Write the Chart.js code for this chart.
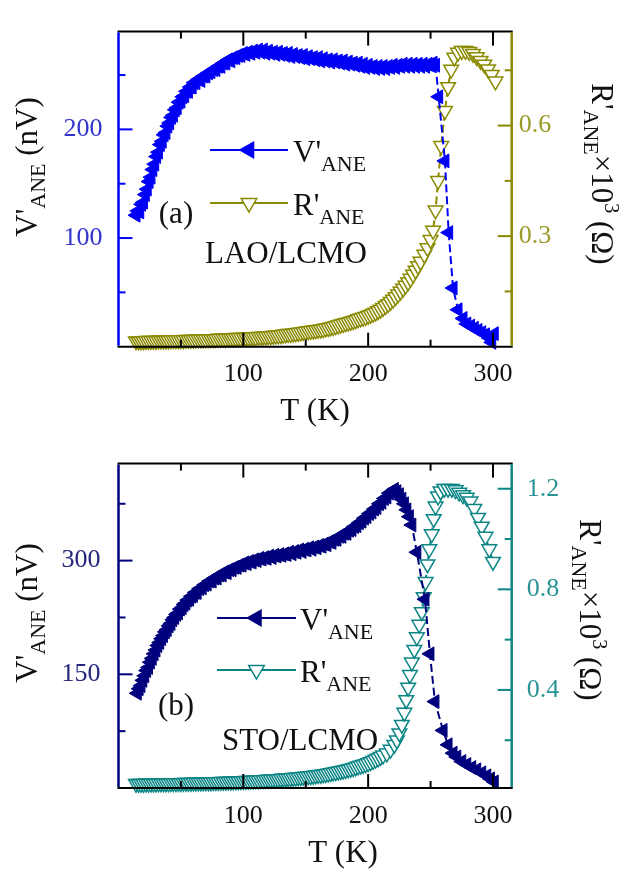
<!DOCTYPE html>
<html>
<head>
<meta charset="utf-8">
<title>V'ANE and R'ANE vs T</title>
<script src="https://cdn.jsdelivr.net/npm/chart.js@4"></script>
<style>
  html, body { margin: 0; padding: 0; background: #fff; }
  #wrap { position: relative; width: 627px; height: 870px; }
  canvas { position: absolute; left: 0; }
  #chartA { top: 0; }
  #chartB { top: 430px; }
  #fontprobe { position: absolute; left: -999px; top: 0; font-family: "Liberation Serif"; font-size: 26px; }
</style>
</head>
<body>
<div id="wrap">
  <canvas id="chartA" width="627" height="430"></canvas>
  <canvas id="chartB" width="627" height="440"></canvas>
</div>
<span id="fontprobe">T (K) 0.6 V'ANE</span>
<script>
// ---- data, panel (a) LAO/LCMO ----
const tA_V = [
  14, 15.5, 17, 18.5, 20, 21.5, 23, 24.5, 26, 27.5,
  29, 30.5, 32, 33.5, 35, 36.5, 38, 39.5, 41, 42.5,
  44, 45.5, 47, 48.5, 50, 51.5, 53, 54.5, 56, 57.5,
  59, 60.5, 62, 64, 66, 68, 70, 72, 74, 76,
  78, 80, 82, 84, 86, 88, 90, 92, 94, 96,
  98, 100, 102, 104, 106, 108, 110, 112, 114, 116,
  118, 120, 122, 124, 126, 128, 130, 132, 134, 136,
  138, 140, 142, 144, 146, 148, 150, 152, 154, 156,
  158, 160, 162, 164, 166, 168, 170, 172, 174, 176,
  178, 180, 182, 184, 186, 188, 190, 192, 194, 196,
  198, 200, 202, 204, 206, 208, 210, 212, 214, 216,
  218, 220, 222, 224, 226, 228, 230, 232, 234, 236,
  238, 240, 242, 244, 246, 248, 250, 252, 254, 256.5,
  261.5, 264.5, 268, 272, 276, 279, 282, 285, 288, 291,
  294, 297, 299, 301];
const vA = [
  121, 125, 124, 131, 133, 140, 145, 152, 156, 163,
  168, 175, 179, 186, 189, 195, 197, 203, 206, 211,
  213, 218, 220, 225, 226, 230, 231, 235, 235, 239,
  239, 243, 243, 246, 245, 249, 249, 252, 253, 255,
  255, 258, 258, 261, 261, 264, 263, 266, 266, 268,
  268, 270, 269, 271, 270, 272, 271, 273, 271, 273,
  270, 272, 270, 271, 269, 271, 269, 270, 268, 270,
  267, 269, 267, 268, 266, 268, 265, 267, 265, 266,
  264, 266, 263, 265, 263, 264, 262, 264, 262, 263,
  261, 263, 260, 262, 260, 261, 259, 261, 258, 260,
  257, 259, 257, 258, 256, 258, 256, 258, 256, 258,
  257, 259, 257, 259, 258, 260, 258, 260, 258, 260,
  258, 260, 258, 260, 258, 260, 259, 261, 259, 230,
  171, 105, 54, 34, 26, 21, 19, 17, 15, 13,
  11, 8, 4, 12];

const tA_R = [
  14, 16, 18, 20, 22, 24, 26, 28, 30, 32,
  34, 36, 38, 40, 42, 44, 46, 48, 50, 52,
  54, 56, 58, 60, 62, 64, 66, 68, 70, 72,
  74, 76, 78, 80, 82, 84, 86, 88, 90, 92,
  94, 96, 98, 100, 102, 104, 106, 108, 110, 112,
  114, 116, 118, 120, 122, 124, 126, 128, 130, 132,
  134, 136, 138, 140, 142, 144, 146, 148, 150, 152,
  154, 156, 158, 160, 162, 164, 166, 168, 170, 172,
  174, 176, 178, 180, 182, 184, 186, 188, 190, 192,
  194, 196, 198, 200, 202, 204, 206, 208, 210, 212,
  214, 216, 218, 220, 222, 224, 226, 228, 230, 232,
  234, 236, 238, 240, 242, 245, 247.5, 250, 252, 254,
  256, 258.5, 261.5, 264, 266.5, 269, 272, 275, 278, 281,
  284, 287, 290, 293, 296, 299, 302];
const rA = [
  0.015, 0.015, 0.015, 0.015, 0.016, 0.016, 0.016, 0.016, 0.016, 0.017,
  0.017, 0.017, 0.017, 0.017, 0.018, 0.018, 0.018, 0.018, 0.018, 0.018,
  0.019, 0.019, 0.019, 0.019, 0.020, 0.020, 0.020, 0.020, 0.020, 0.021,
  0.021, 0.021, 0.021, 0.022, 0.022, 0.022, 0.022, 0.023, 0.023, 0.023,
  0.024, 0.024, 0.024, 0.025, 0.025, 0.025, 0.026, 0.026, 0.026, 0.027,
  0.027, 0.028, 0.028, 0.029, 0.029, 0.030, 0.031, 0.031, 0.032, 0.033,
  0.034, 0.035, 0.035, 0.036, 0.037, 0.038, 0.039, 0.040, 0.041, 0.042,
  0.043, 0.044, 0.045, 0.046, 0.047, 0.048, 0.050, 0.051, 0.053, 0.054,
  0.056, 0.058, 0.060, 0.062, 0.064, 0.066, 0.068, 0.070, 0.072, 0.075,
  0.077, 0.079, 0.081, 0.084, 0.087, 0.090, 0.093, 0.097, 0.101, 0.106,
  0.111, 0.116, 0.122, 0.128, 0.135, 0.142, 0.150, 0.158, 0.166, 0.175,
  0.185, 0.196, 0.207, 0.219, 0.231, 0.250, 0.268, 0.29, 0.315, 0.37,
  0.45, 0.545, 0.64, 0.705, 0.752, 0.785, 0.798, 0.803, 0.803, 0.80,
  0.795, 0.786, 0.776, 0.766, 0.753, 0.738, 0.72];

// ---- data, panel (b) STO/LCMO ----
const tB_V = [
  15, 16.5, 18, 19.5, 21, 22.5, 24, 25.5, 27, 28.5,
  30, 31.5, 33, 34.5, 36, 37.5, 39, 40.5, 42, 43.5,
  45, 46.5, 48, 49.5, 51, 52.5, 54, 55.5, 57, 58.5,
  60, 61.5, 63, 65, 67, 69, 71, 73, 75, 77,
  79, 81, 83, 85, 87, 89, 91, 93, 95, 97,
  99, 101, 103, 105, 107, 109, 111, 113, 115, 117,
  119, 121, 123, 125, 127, 129, 131, 133, 135, 137,
  139, 141, 143, 145, 147, 149, 151, 153, 155, 157,
  159, 161, 163, 165, 167, 169, 171, 173, 175, 177,
  179, 181, 183, 185, 187, 189, 191, 193, 195, 197,
  199, 201, 203, 205, 207, 209, 211, 213, 215, 217,
  219, 221, 223, 225, 227, 229, 231, 233, 235, 239,
  245.5, 249.5, 253.5, 260, 264, 268, 271, 275, 279, 283,
  287, 291, 295, 298, 301];
const vB = [
  125, 131, 135, 142, 148, 155, 159, 166, 171, 177,
  182, 188, 192, 197, 201, 206, 209, 214, 217, 222,
  225, 229, 231, 236, 238, 242, 244, 248, 249, 253,
  254, 258, 258, 263, 264, 268, 269, 273, 273, 277,
  277, 281, 281, 285, 284, 288, 288, 291, 291, 294,
  294, 297, 296, 299, 298, 301, 300, 303, 302, 304,
  303, 306, 304, 307, 306, 308, 307, 309, 308, 311,
  309, 312, 311, 314, 312, 315, 314, 317, 315, 318,
  317, 320, 319, 322, 321, 325, 324, 328, 328, 332,
  332, 336, 336, 340, 341, 345, 346, 350, 352, 356,
  358, 362, 364, 368, 370, 375, 377, 382, 384, 389,
  391, 394, 391, 387, 381, 375, 367, 358, 347, 311,
  249, 177, 114, 76, 57, 46, 41, 35, 31, 27,
  24, 20, 16, 12, 8];

const tB_R = [
  14, 16, 18, 20, 22, 24, 26, 28, 30, 32,
  34, 36, 38, 40, 42, 44, 46, 48, 50, 52,
  54, 56, 58, 60, 62, 64, 66, 68, 70, 72,
  74, 76, 78, 80, 82, 84, 86, 88, 90, 92,
  94, 96, 98, 100, 102, 104, 106, 108, 110, 112,
  114, 116, 118, 120, 122, 124, 126, 128, 130, 132,
  134, 136, 138, 140, 142, 144, 146, 148, 150, 152,
  154, 156, 158, 160, 162, 164, 166, 168, 170, 172,
  174, 176, 178, 180, 182, 184, 186, 188, 190, 192,
  194, 196, 198, 200, 202, 204, 206, 208, 210, 212,
  215, 218, 221, 223, 225, 227, 229, 230.5, 232, 233.5,
  235, 237, 239, 241, 243, 244.5, 246, 247.5, 249, 251,
  252.5, 254, 256, 258, 261, 264, 267, 270, 273, 276,
  279, 282, 285, 288, 291, 294, 297, 300];
const rB = [
  0.027, 0.027, 0.027, 0.027, 0.028, 0.028, 0.028, 0.028, 0.028, 0.029,
  0.029, 0.029, 0.029, 0.029, 0.030, 0.030, 0.030, 0.030, 0.030, 0.031,
  0.031, 0.031, 0.031, 0.032, 0.032, 0.032, 0.032, 0.033, 0.033, 0.033,
  0.033, 0.034, 0.034, 0.034, 0.035, 0.035, 0.035, 0.036, 0.036, 0.036,
  0.037, 0.037, 0.038, 0.038, 0.039, 0.039, 0.040, 0.040, 0.041, 0.041,
  0.042, 0.042, 0.043, 0.044, 0.044, 0.045, 0.046, 0.046, 0.047, 0.048,
  0.049, 0.049, 0.050, 0.051, 0.052, 0.053, 0.054, 0.055, 0.056, 0.057,
  0.058, 0.059, 0.061, 0.062, 0.063, 0.065, 0.066, 0.068, 0.070, 0.072,
  0.074, 0.076, 0.078, 0.080, 0.082, 0.085, 0.087, 0.090, 0.093, 0.096,
  0.099, 0.102, 0.105, 0.109, 0.113, 0.118, 0.123, 0.128, 0.134, 0.140,
  0.148, 0.163, 0.182, 0.20, 0.228, 0.262, 0.31, 0.36, 0.41, 0.46,
  0.51, 0.56, 0.61, 0.66, 0.71, 0.77, 0.83, 0.90, 0.96, 1.02,
  1.08, 1.13, 1.17, 1.19, 1.20, 1.20, 1.20, 1.195, 1.185, 1.175,
  1.165, 1.15, 1.12, 1.085, 1.05, 1.01, 0.96, 0.91];

// ---- axes ----
const xTicks = [50, 100, 150, 200, 250, 300];
const xLabels = [100, 200, 300];
const leftTicksA = [50, 100, 150, 200, 250];
const leftLabelsA = [100, 200];
const rightTicksA = [0.15, 0.3, 0.45, 0.6, 0.75];
const rightLabelsA = [0.3, 0.6];
const leftTicksB = [75, 150, 225, 300, 375];
const leftLabelsB = [150, 300];
const rightTicksB = [0.2, 0.4, 0.6, 0.8, 1.0, 1.2];
const rightLabelsB = [0.4, 0.8, 1.2];

const FONT = '"Liberation Serif", "Times New Roman", serif';

function font(size) {
    return size + 'px ' + FONT;
}

function toPoints(xs, ys) {
    if (xs.length !== ys.length) console.warn('length mismatch', xs.length, ys.length);
    return xs.map((x, i) => ({ x: x, y: ys[i] }));
}

// text with sub/superscripts, drawn piece by piece along one baseline
function drawRich(ctx, parts, x, y, angle, align) {
    ctx.save();
    ctx.translate(x, y);
    ctx.rotate(angle);
    ctx.textBaseline = 'alphabetic';
    ctx.textAlign = 'left';
    let total = 0;
    const widths = parts.map(p => {
        ctx.font = font(p.size);
        const w = ctx.measureText(p.text).width;
        total += w;
        return w;
    });
    let cx = align === 'left' ? 0 : -total / 2;
    parts.forEach((p, i) => {
        ctx.font = font(p.size);
        ctx.fillStyle = p.color || '#111';
        ctx.fillText(p.text, cx, p.dy || 0);
        cx += widths[i];
    });
    ctx.restore();
}

function seg(ctx, x1, y1, x2, y2, color, w) {
    ctx.strokeStyle = color;
    ctx.lineWidth = w;
    ctx.beginPath();
    ctx.moveTo(x1, y1);
    ctx.lineTo(x2, y2);
    ctx.stroke();
}

function decoPlugin(cfg) {
    return {
        id: 'deco',
        afterDatasetsDraw(chart) {
            const ctx = chart.ctx;
            const a = chart.chartArea;
            const sx = chart.scales.x;
            const sy = chart.scales.y;
            const sr = chart.scales.y1;
            ctx.save();
            ctx.setLineDash([]);

            // inward tick marks
            xTicks.forEach(v => {
                const px = sx.getPixelForValue(v);
                const len = xLabels.includes(v) ? 14 : 7;
                seg(ctx, px, a.bottom, px, a.bottom - len, '#000', 2);
                seg(ctx, px, a.top, px, a.top + len, '#000', 2);
            });
            cfg.leftTicks.forEach(v => {
                const py = sy.getPixelForValue(v);
                const len = cfg.leftLabels.includes(v) ? 14 : 7;
                seg(ctx, a.left, py, a.left + len, py, cfg.vColor, 2);
            });
            cfg.rightTicks.forEach(v => {
                const py = sr.getPixelForValue(v);
                const len = cfg.rightLabels.includes(v) ? 14 : 7;
                seg(ctx, a.right, py, a.right - len, py, cfg.rColor, 2);
            });

            // frame
            seg(ctx, a.left - 1, a.top, a.right + 1, a.top, '#000', 2);
            seg(ctx, a.left - 1, a.bottom, a.right + 1, a.bottom, '#000', 2);
            seg(ctx, a.left, a.top + 1, a.left, a.bottom - 1, cfg.vColor, 2.5);
            seg(ctx, a.right, a.top + 1, a.right, a.bottom - 1, cfg.rColor, 2.5);

            // axis titles
            const oy = cfg.offsetY;
            drawRich(ctx, [
                { text: "V'", size: 31 },
                { text: 'ANE', size: 22, dy: 8 },
                { text: ' (nV)', size: 31 }
            ], 37, cfg.leftTitleY - oy, -Math.PI / 2);
            drawRich(ctx, [
                { text: "R'", size: 31 },
                { text: 'ANE', size: 22, dy: 8 },
                { text: '×10', size: 31 },
                { text: '3', size: 20, dy: -13 },
                { text: ' (Ω)', size: 31 }
            ], cfg.rightTitleX, cfg.rightTitleY - oy, Math.PI / 2);
            drawRich(ctx, [{ text: 'T (K)', size: 31 }], cfg.xTitleX, cfg.xTitleY - oy, 0);

            // legend
            const rows = [
                { y: cfg.legendY[0], color: cfg.vColor, fill: cfg.vColor, rot: -90, r: 9, name: "V'" },
                { y: cfg.legendY[1], color: cfg.rColor, fill: '#fff', rot: 180, r: 9, name: "R'" }
            ];
            rows.forEach(row => {
                const y = row.y - oy;
                seg(ctx, cfg.legendX[0], y, cfg.legendX[1], y, row.color, 2);
                ctx.fillStyle = row.fill;
                ctx.strokeStyle = row.color;
                ctx.lineWidth = 1.5;
                Chart.helpers.drawPoint(ctx, {
                    pointStyle: 'triangle', rotation: row.rot, radius: row.r, borderWidth: 1.5
                }, (cfg.legendX[0] + cfg.legendX[1]) / 2, y);
                drawRich(ctx, [
                    { text: row.name, size: 31 },
                    { text: 'ANE', size: 22, dy: 9 }
                ], cfg.legendTextX, y + 12, 0, 'left');
            });

            // panel tag and sample name
            drawRich(ctx, [{ text: cfg.tag, size: 31 }], 176, cfg.tagY - oy, 0);
            drawRich(ctx, [{ text: cfg.sample, size: 31 }], cfg.sampleX, cfg.sampleY - oy, 0, 'left');

            ctx.restore();
        }
    };
}

function makeChart(id, cfg) {
    console.log('makeChart', id);
    const ctx = document.getElementById(id);
    const canvasH = ctx.height;

    return new Chart(ctx, {
        type: 'line',
        data: {
            datasets: [{
                label: "V'ANE",
                data: toPoints(cfg.tV, cfg.v),
                yAxisID: 'y',
                borderColor: cfg.vColor,
                backgroundColor: cfg.vColor,
                borderWidth: 2,
                borderDash: [8, 4],
                pointStyle: 'triangle',
                pointRotation: -90,
                pointRadius: 8,
                pointBorderWidth: 1,
                pointBackgroundColor: cfg.vColor,
                pointBorderColor: cfg.vColor,
                tension: 0,
                clip: false
            }, {
                label: "R'ANE",
                data: toPoints(cfg.tR, cfg.r),
                yAxisID: 'y1',
                borderColor: cfg.rColor,
                backgroundColor: '#fff',
                borderWidth: 2,
                borderDash: [8, 4],
                pointStyle: 'triangle',
                pointRotation: 180,
                pointRadius: 8.5,
                pointBorderWidth: 1.5,
                pointBackgroundColor: '#fff',
                pointBorderColor: cfg.rColor,
                tension: 0,
                clip: false
            }]
        },
        options: {
            responsive: false,
            animation: false,
            events: [],
            layout: { padding: { top: cfg.top, left: 0, right: 0, bottom: 0 } },
            plugins: {
                legend: { display: false },
                tooltip: { enabled: false }
            },
            scales: {
                x: {
                    type: 'linear',
                    min: 0,
                    max: 315,
                    grid: { display: false, drawTicks: false },
                    border: { display: false },
                    ticks: { font: { family: FONT, size: 26 }, color: '#111', padding: cfg.xPad, maxRotation: 0 },
                    afterBuildTicks: s => { s.ticks = xLabels.map(v => ({ value: v })); },
                    afterFit: s => { s.height = canvasH - cfg.bottom; }
                },
                y: {
                    type: 'linear',
                    position: 'left',
                    min: 0,
                    max: cfg.vMax,
                    grid: { display: false, drawTicks: false },
                    border: { display: false },
                    ticks: { font: { family: FONT, size: 26 }, color: cfg.vLabelColor, padding: cfg.leftPad },
                    afterBuildTicks: s => { s.ticks = cfg.leftLabels.map(v => ({ value: v })); },
                    afterFit: s => { s.width = 118.5; }
                },
                y1: {
                    type: 'linear',
                    position: 'right',
                    min: cfg.rMin,
                    max: cfg.rMax,
                    grid: { display: false, drawTicks: false },
                    border: { display: false },
                    ticks: {
                        font: { family: FONT, size: 26 },
                        color: cfg.rLabelColor,
                        padding: cfg.rightPad,
                        callback: v => v.toFixed(1)
                    },
                    afterBuildTicks: s => { s.ticks = cfg.rightLabels.map(v => ({ value: v })); },
                    afterFit: s => { s.width = 627 - 511.7; }
                }
            }
        },
        plugins: [decoPlugin(cfg)]
    });
}

function drawAll() {
    makeChart('chartA', {
        tV: tA_V, v: vA, tR: tA_R, r: rA,
        vColor: '#0000f5', vLabelColor: '#3333cc',
        rColor: '#8a8a00', rLabelColor: '#9a9a2a',
        vMax: 290, rMin: 0, rMax: 0.855,
        leftTicks: leftTicksA, leftLabels: leftLabelsA,
        rightTicks: rightTicksA, rightLabels: rightLabelsA,
        top: 15, bottom: 346.7, offsetY: 0,
        xPad: 12, leftPad: 16, rightPad: 7,
        leftTitleY: 167, rightTitleX: 592, rightTitleY: 174,
        xTitleX: 315, xTitleY: 420,
        legendY: [150, 203], legendX: [210, 288], legendTextX: 293,
        tag: '(a)', tagY: 223, sample: 'LAO/LCMO', sampleX: 205, sampleY: 263
    });

    makeChart('chartB', {
        tV: tB_V, v: vB, tR: tB_R, r: rB,
        vColor: '#00007d', vLabelColor: '#25257e',
        rColor: '#0c8585', rLabelColor: '#2a9393',
        vMax: 428, rMin: 0.01, rMax: 1.3,
        leftTicks: leftTicksB, leftLabels: leftLabelsB,
        rightTicks: rightTicksB, rightLabels: rightLabelsB,
        top: 27.3, bottom: 358, offsetY: 430,
        xPad: 13, leftPad: 18, rightPad: 15,
        leftTitleY: 613, rightTitleX: 580, rightTitleY: 610,
        xTitleX: 343, xTitleY: 862,
        legendY: [618, 670], legendX: [217, 296], legendTextX: 300,
        tag: '(b)', tagY: 715, sample: 'STO/LCMO', sampleX: 222, sampleY: 750
    });
}

// make sure the serif face is ready before the canvas text is drawn
document.fonts.load('26px "Liberation Serif"').then(drawAll, drawAll);
</script>
</body>
</html>
